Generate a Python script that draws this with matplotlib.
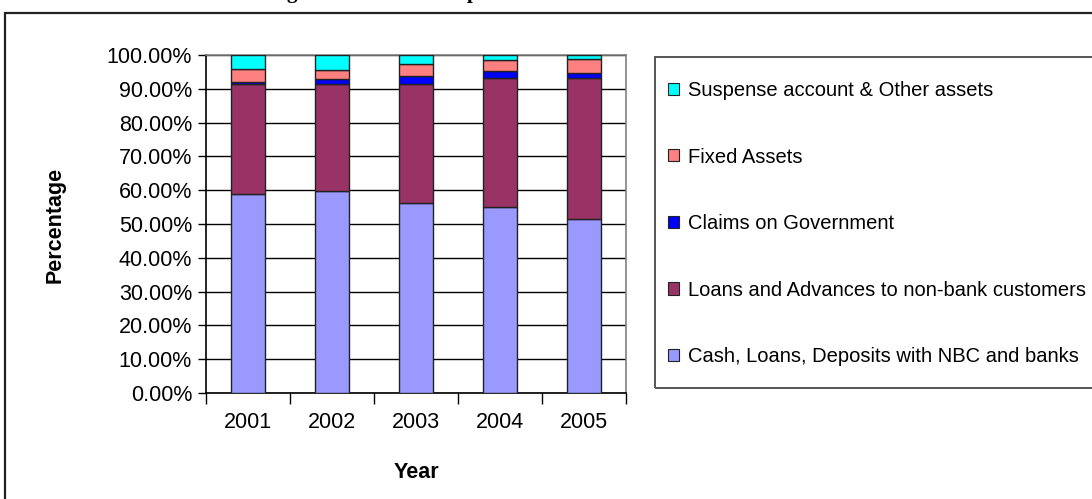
import matplotlib
matplotlib.use("Agg")
import numpy as np
import matplotlib.pyplot as plt
from matplotlib.patches import Rectangle, Patch
from matplotlib.ticker import PercentFormatter, FixedLocator, NullFormatter

plt.rcParams["font.family"] = ["Liberation Sans", "DejaVu Sans"]

years = ["2001", "2002", "2003", "2004", "2005"]

# shares of total assets, %
cash_deposits = [58.9, 59.9, 56.2, 55.0, 51.5]
loans_advances = [32.6, 31.6, 35.3, 38.3, 41.8]
claims_gov = [0.4, 1.5, 2.2, 1.9, 1.4]
fixed_assets = [4.1, 2.6, 3.6, 3.2, 4.1]
suspense_other = [4.0, 4.4, 2.7, 1.6, 1.2]

series_names = [
    "Cash, Loans, Deposits with NBC and banks",
    "Loans and Advances to non-bank customers",
    "Claims on Government",
    "Fixed Assets",
    "Suspense account & Other assets",
]
series_values = [cash_deposits, loans_advances, claims_gov, fixed_assets, suspense_other]
series_colors = ["#9999FF", "#993366", "#0000FF", "#FF8080", "#00FFFF"]

W, H = 1092, 499
fig = plt.figure(figsize=(W / 100, H / 100), dpi=100)

def fx(px):
    return px / W

def fy(py):
    return 1 - py / H

# outer chart border, runs off the right and bottom edges
fig.patches.append(Rectangle((fx(5), fy(520)), fx(1100) - fx(5), fy(13) - fy(520),
                             transform=fig.transFigure, fill=False,
                             edgecolor="#222222", linewidth=1.6))

fig.text(fx(380), fy(-2), "Banking Sector Assets Composition", ha="center", va="baseline",
         family=["Liberation Serif"], fontweight="bold", fontsize=15)

ax = fig.add_axes([fx(206), fy(393), fx(626) - fx(206), fy(55) - fy(393)])

x = np.arange(len(years)) + 0.5
bottom = np.zeros(len(years))
handles = []
for name, vals, col in zip(series_names, series_values, series_colors):
    vals = np.array(vals)
    ax.bar(x, vals, 0.393, bottom=bottom, color=col, edgecolor="#222222",
           linewidth=1.0, zorder=3)
    bottom += vals
    handles.append(Patch(facecolor=col, edgecolor="#222222", linewidth=0.8, label=name))

ax.set_xlim(0, len(years))
ax.set_ylim(0, 100)
ax.yaxis.set_major_locator(FixedLocator(np.arange(0, 101, 10)))
ax.yaxis.set_major_formatter(PercentFormatter(decimals=2))
ax.grid(axis="y", color="black", linewidth=1.0, zorder=0)

ax.xaxis.set_major_locator(FixedLocator(np.arange(0, len(years) + 1)))
ax.xaxis.set_major_formatter(NullFormatter())
ax.xaxis.set_minor_locator(FixedLocator(x))
ax.set_xticklabels(years, minor=True)
ax.tick_params(axis="x", which="major", direction="out", length=8, width=1.0, color="black")
ax.tick_params(axis="x", which="minor", length=0, pad=14, labelsize=15.5)
ax.tick_params(axis="y", direction="out", length=6, width=1.0, pad=4, labelsize=15.5)

for side in ("left", "bottom"):
    ax.spines[side].set_color("black")
    ax.spines[side].set_linewidth(1.2)
for side in ("top", "right"):
    ax.spines[side].set_color("#808080")
    ax.spines[side].set_linewidth(1.2)

fig.text(fx(55), fy(225), "Percentage", rotation=90, ha="center", va="center",
         fontweight="bold", fontsize=15.5)
fig.text(fx(416), fy(472), "Year", ha="center", va="center",
         fontweight="bold", fontsize=15.5)

# legend box, open on the right edge
fig.patches.append(Rectangle((fx(655), fy(388)), fx(1100) - fx(655), fy(57) - fy(388),
                             transform=fig.transFigure, fill=False,
                             edgecolor="#555555", linewidth=1.4))
fig.legend(handles=handles[::-1], loc="upper left", bbox_to_anchor=(fx(668), fy(81)),
           frameon=False, fontsize=14.5, handlelength=0.55, handleheight=0.55,
           handletextpad=0.45, labelspacing=2.36, borderpad=0, borderaxespad=0)

fig.savefig("out.png", dpi=100)
